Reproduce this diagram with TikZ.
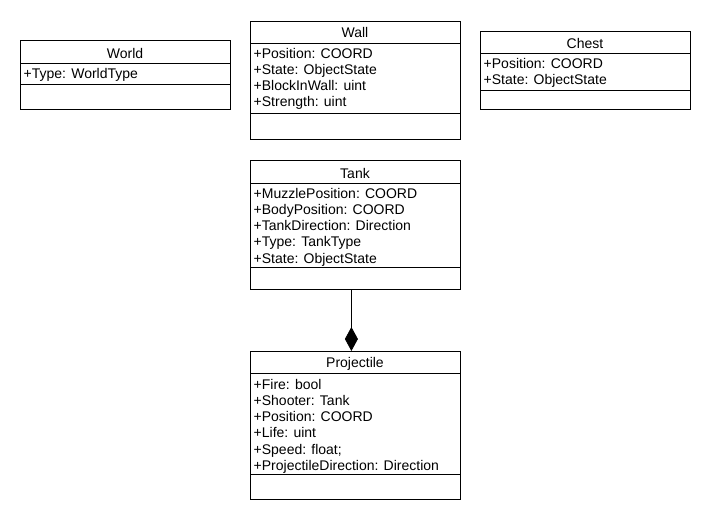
\documentclass[tikz,border=0pt]{standalone}
\usepackage{fontspec}
\setmainfont{Liberation Sans}
\usetikzlibrary{arrows.meta, positioning}

\begin{document}
\begin{tikzpicture}[x=1pt,y=-1pt,
  classbox/.style={draw,line width=0.8pt,minimum width=210pt,inner sep=0pt,anchor=north west},
  classname/.style={font=\fontsize{14}{16.2}\selectfont,inner sep=0pt},
  attrs/.style={font=\fontsize{14}{16.2}\selectfont,align=left,anchor=north west,inner sep=0pt}]
\useasboundingbox (0,0) rectangle (710,520);

% World
\node[classbox,minimum height=69pt] (world) at (20,40) {};
\node[classname] (worldname) at (125,53) {World};
\draw[line width=0.8pt] (20,63) -- (230,63);
\node[attrs] (worldattrs) at (23.5,68) {+Type: WorldType};
\draw[line width=0.8pt] (20,84) -- (230,84);

% Wall
\node[classbox,minimum height=118pt] (wall) at (250,21) {};
\node[classname] (wallname) at (355,32.5) {Wall};
\draw[line width=0.8pt] (250,43) -- (460,43);
\node[attrs] (wallattrs) at (253.5,48) {+Position: COORD\\+State: ObjectState\\+BlockInWall: uint\\+Strength: uint};
\draw[line width=0.8pt] (250,113) -- (460,113);

% Chest
\node[classbox,minimum height=78pt] (chest) at (480,31) {};
\node[classname] (chestname) at (585,43.5) {Chest};
\draw[line width=0.8pt] (480,53) -- (690,53);
\node[attrs] (chestattrs) at (483.5,58) {+Position: COORD\\+State: ObjectState};
\draw[line width=0.8pt] (480,90) -- (690,90);

% Tank
\node[classbox,minimum height=129pt] (tank) at (250,160) {};
\node[classname] (tankname) at (355,173.5) {Tank};
\draw[line width=0.8pt] (250,183) -- (460,183);
\node[attrs] (tankattrs) at (253.5,188) {+MuzzlePosition: COORD\\+BodyPosition: COORD\\+TankDirection: Direction\\+Type: TankType\\+State: ObjectState};
\draw[line width=0.8pt] (250,267) -- (460,267);

% Projectile
\node[classbox,minimum height=148pt] (projectile) at (250,351) {};
\node[classname] (projectilename) at (355,363.5) {Projectile};
\draw[line width=0.8pt] (250,373) -- (460,373);
\node[attrs] (projectileattrs) at (253.5,379) {+Fire: bool\\+Shooter: Tank\\+Position: COORD\\+Life: uint\\+Speed: float;\\+ProjectileDirection: Direction};
\draw[line width=0.8pt] (250,474) -- (460,474);

% Composition
\draw[line width=0.8pt,-{Diamond[length=24pt,width=13pt]}] ([xshift=-4pt]tank.south) -- ([xshift=-4pt]projectile.north);
\end{tikzpicture}
\end{document}
